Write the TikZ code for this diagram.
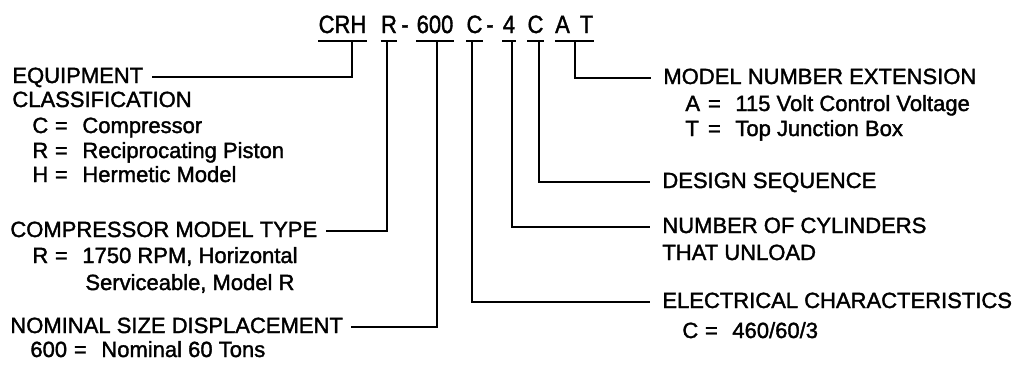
\documentclass[tikz,border=0pt]{standalone}
\usepackage{fontspec}
\setmainfont{Liberation Sans}[FakeBold=1.6]
\usepackage{graphicx}

\newcommand{\codech}[1]{\scalebox{0.88}[1]{#1}}
\newcommand{\keyval}[3][8.5pt]{\makebox[#1][l]{#2}\makebox[12pt][c]{=}\hspace{4.5pt}#3}

\begin{document}
\begin{tikzpicture}[x=0.5pt,y=-0.5pt,
  code/.style={anchor=base,inner xsep=0pt,inner ysep=4pt,text depth=0pt,
    font=\fontsize{12.5}{14}\selectfont},
  title/.style={anchor=base west,inner sep=0pt,text height=7pt,text depth=1pt,
    font=\fontsize{11}{13}\selectfont},
  entry/.style={anchor=base west,inner sep=0pt,font=\fontsize{11}{13}\selectfont},
  bar/.style={line width=1pt},
  lead/.style={line width=1pt}]

\useasboundingbox (0,0) rectangle (1021,366);

% model number
\node[code] (cCRH) at (342.5,33) {\codech{CRH}};
\node[code] (cR)   at (389,33)   {\codech{R}};
\node[code] (dA)   at (405,33)   {\codech{-}};
\node[code] (c600) at (435,33)   {\codech{600}};
\node[code] (cC)   at (474.5,33) {\codech{C}};
\node[code] (dB)   at (490,33)   {\codech{-}};
\node[code] (c4)   at (509,33)   {\codech{4}};
\node[code] (cD)   at (535.5,33) {\codech{C}};
\node[code] (cA)   at (562.5,33) {\codech{A}};
\node[code] (cT)   at (586.5,33) {\codech{T}};

\draw[bar] (cCRH.south west) -- (cCRH.south east);
\draw[bar] (cR.south west) -- (cR.south east);
\draw[bar] (c600.south west) -- (c600.south east);
\draw[bar] (cC.south west) -- (cC.south east);
\draw[bar] (c4.south west) -- (c4.south east);
\draw[bar] (cD.south west) -- (cD.south east);
\draw[bar] (cA.south west) -- (cT.south east);

\coordinate (sCRH) at (352,41);
\coordinate (sR)   at (387,41);
\coordinate (s600) at (437,41);
\coordinate (sC)   at (472,41);
\coordinate (s4)   at (512,41);
\coordinate (sD)   at (539,41);
\coordinate (sAT)  at (575,41);

% left side
\node[title] (eqp) at (12,83) {EQUIPMENT};
\node[entry] (cls) at (12,107) {CLASSIFICATION};
\node[entry] (eqC) at (32,133) {\keyval{C}{Compressor}};
\node[entry] (eqR) at (32,158) {\keyval{R}{Reciprocating Piston}};
\node[entry] (eqH) at (32,182) {\keyval{H}{Hermetic Model}};

\node[title] (cmt) at (10,237) {COMPRESSOR MODEL TYPE};
\node[entry] (cmtR) at (32,263) {\keyval{R}{1750 RPM, Horizontal}};
\node[entry] (cmtS) at (85,290) {Serviceable, Model R};

\node[title] (nsd) at (10,333) {NOMINAL SIZE DISPLACEMENT};
\node[entry] (nsdV) at (30,357) {\keyval[19pt]{600}{Nominal 60 Tons}};

% right side
\node[title] (mne) at (663,84) {MODEL NUMBER EXTENSION};
\node[entry] (mneA) at (685,111) {\keyval{A}{115 Volt Control Voltage}};
\node[entry] (mneT) at (685,136) {\keyval{T}{Top Junction Box}};

\node[title] (dsq) at (662,188) {DESIGN SEQUENCE};

\node[title] (ncu) at (662,233) {NUMBER OF CYLINDERS};
\node[entry] (ncu2) at (662,260) {THAT UNLOAD};

\node[title] (elc) at (662,308) {ELECTRICAL CHARACTERISTICS};
\node[entry] (elcC) at (682,338) {\keyval{C}{460/60/3}};

% leaders
\draw[lead,shorten >=4pt] (sCRH) |- (eqp);
\draw[lead,shorten >=4pt] (sR) |- (cmt);
\draw[lead,shorten >=4pt] (s600) |- (nsd);
\draw[lead,shorten >=6pt] (sC) |- (elc);
\draw[lead,shorten >=6pt] (s4) |- (ncu);
\draw[lead,shorten >=6pt] (sD) |- (dsq);
\draw[lead,shorten >=6pt] (sAT) |- (mne);
\end{tikzpicture}
\end{document}
